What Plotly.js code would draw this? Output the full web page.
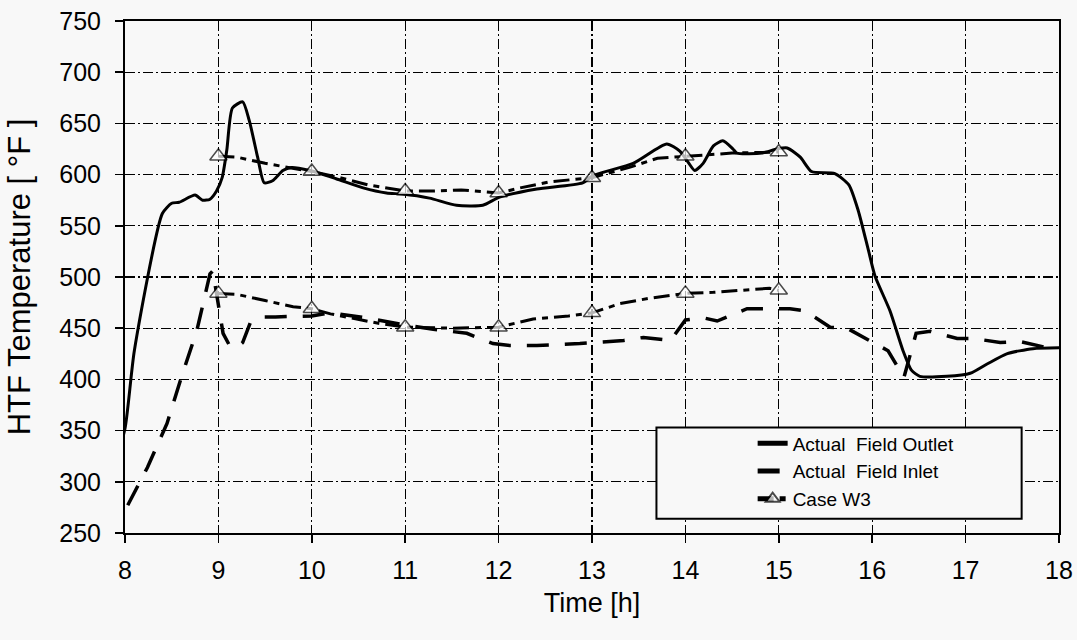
<!DOCTYPE html>
<html>
<head>
<meta charset="utf-8">
<script src="https://cdn.plot.ly/plotly-3.0.1.min.js"></script>
<style>
  html, body { margin: 0; padding: 0; background: #f8f8f8; }
  #chart { width: 1077px; height: 640px; }
</style>
</head>
<body>
<div id="chart"></div>
<script>
// Actual Field Outlet (solid)
const outletTime = [7.877, 8.0, 8.10, 8.40, 8.50, 8.58, 8.75, 8.83, 8.91, 8.98, 9.04, 9.09, 9.15, 9.26, 9.33, 9.42, 9.49, 9.58, 9.69, 9.78, 9.98, 10.26, 10.55, 10.80, 10.97, 11.26, 11.55, 11.83, 12.01, 12.41, 12.90, 13.01, 13.44, 13.80, 13.94, 14.03, 14.10, 14.19, 14.30, 14.40, 14.51, 14.55, 14.82, 14.98, 15.09, 15.23, 15.35, 15.60, 15.75, 15.85, 15.96, 16.03, 16.19, 16.33, 16.42, 16.51, 16.80, 17.05, 17.23, 17.44, 17.72, 18.11];
const outletTemp = [314, 352, 428, 562, 572, 573, 580, 575, 576, 584, 597, 624, 665, 671, 653, 617, 592, 594, 604, 607, 604, 596, 587, 582, 581, 577, 570, 570, 578, 586, 592, 599, 611, 630, 623, 612, 604, 611, 628, 633, 625, 621, 621, 625, 626, 617, 603, 601, 590, 565, 526, 501, 467, 428, 409, 403, 403, 406, 415, 425, 430, 431];

// Actual Field Inlet (dashed)
const inletTime = [7.90, 8.0, 8.24, 8.45, 8.60, 8.77, 8.91, 8.94, 9.05, 9.12, 9.20, 9.26, 9.34, 9.48, 9.61, 10.0, 10.2, 10.6, 10.94, 11.3, 11.66, 11.94, 12.12, 12.41, 12.87, 13.34, 13.55, 13.84, 14.0, 14.2, 14.34, 14.66, 14.83, 15.12, 15.28, 15.55, 15.73, 16.0, 16.17, 16.34, 16.47, 16.62, 16.91, 17.08, 17.37, 17.58, 17.87, 18.11];
const inletTemp = [242, 272, 314, 357, 401, 448, 503, 506, 445, 433, 431, 436, 455, 461, 461, 462, 465, 460, 454, 449, 445, 435, 433, 433, 435, 438, 441, 438, 458, 460, 457, 469, 469, 469, 467, 451, 450, 436, 428, 402, 445, 447, 440, 440, 436, 437, 431, 430];

// Case W3 (dash-dot with triangles at whole hours)
const w3OutTime = [9.0, 9.2, 9.5, 9.75, 10.0, 10.3, 10.6, 11.0, 11.3, 11.6, 12.0, 12.23, 12.55, 13.0, 13.4, 13.7, 14.0, 14.2, 14.5, 15.0];
const w3OutTemp = [618, 617, 611, 607, 603, 597, 590, 584, 584, 585, 582, 587, 593, 597, 607, 616, 618, 619, 621, 622];
const w3InTime = [9.0, 9.2, 9.5, 9.8, 10.0, 10.2, 10.7, 11.0, 11.5, 12.0, 12.37, 12.75, 13.0, 13.3, 13.6, 14.0, 14.3, 14.6, 14.9, 15.0];
const w3InTemp = [484, 483, 477, 471, 469, 464, 455, 451, 450, 451, 459, 462, 465, 474, 479, 484, 485, 487, 489, 487];

const seriesNames = ['Actual  Field Outlet', 'Actual  Field Inlet', 'Case W3'];
const xTicks = [8, 9, 10, 11, 12, 13, 14, 15, 16, 17, 18];
const yTicks = [250, 300, 350, 400, 450, 500, 550, 600, 650, 700, 750];

const FONT = 'Liberation Sans, Arial, Helvetica, sans-serif';
const bg = '#f8f8f8';
const w3Dash = '16px,6px,6px,6px';
const markerSizes = t => t.map(v => (Math.abs(v - Math.round(v)) < 1e-9 ? 15 : 0));

const traces = [
  { x: outletTime, y: outletTemp, name: seriesNames[0], mode: 'lines',
    line: { color: '#000', width: 3, shape: 'spline', smoothing: 0.6 } },
  { x: inletTime, y: inletTemp, name: seriesNames[1], mode: 'lines',
    line: { color: '#000', width: 3.5, dash: '22px,16px' } },
  { x: w3OutTime, y: w3OutTemp, name: seriesNames[2], mode: 'lines+markers',
    line: { color: '#000', width: 3, dash: w3Dash },
    marker: { symbol: 'triangle-up', size: markerSizes(w3OutTime), color: '#ffffff', line: { width: 1.5, color: '#000' } } },
  { x: w3InTime, y: w3InTemp, name: seriesNames[2], mode: 'lines+markers', showlegend: false,
    line: { color: '#000', width: 3, dash: w3Dash },
    marker: { symbol: 'triangle-up', size: markerSizes(w3InTime), color: '#ffffff', line: { width: 1.5, color: '#000' } } }
];

const layout = {
  width: 1077, height: 640,
  margin: { l: 125, r: 18, t: 21, b: 107 },
  paper_bgcolor: bg, plot_bgcolor: bg,
  font: { family: FONT, color: '#000' },
  xaxis: {
    range: [8, 18], tickvals: xTicks, ticktext: xTicks.map(String),
    showline: true, mirror: true, linecolor: '#000', linewidth: 2,
    ticks: 'outside', ticklen: 8, tickwidth: 1.5, tickcolor: '#000',
    ticklabelstandoff: 6,
    showgrid: true, gridcolor: '#000', gridwidth: 1.2, griddash: '10px,3px,2px,3px',
    zeroline: false,
    tickfont: { family: FONT, size: 25, color: '#000' },
    title: { text: 'Time [h]', font: { family: FONT, size: 27, color: '#000' }, standoff: 10 }
  },
  yaxis: {
    range: [250, 750], tickvals: yTicks, ticktext: yTicks.map(String),
    showline: true, mirror: true, linecolor: '#000', linewidth: 2,
    ticks: 'outside', ticklen: 8, tickwidth: 1.5, tickcolor: '#000',
    ticklabelstandoff: 9,
    showgrid: true, gridcolor: '#000', gridwidth: 1.2, griddash: '10px,3px,2px,3px',
    zeroline: false,
    tickfont: { family: FONT, size: 25, color: '#000' },
    title: { text: 'HTF Temperature [ °F ]', font: { family: FONT, size: 31, color: '#000' }, standoff: 19 }
  },
  shapes: [
    { type: 'rect', xref: 'paper', yref: 'paper', layer: 'above',
      x0: 0.569, x1: 0.960, y0: 0.028, y1: 0.206,
      fillcolor: bg, line: { color: '#000', width: 2 } }
  ],
  legend: {
    x: 0.672, y: 0.212, xanchor: 'left', yanchor: 'top',
    bgcolor: 'rgba(0,0,0,0)', borderwidth: 0,
    font: { family: FONT, size: 19, color: '#000' },
    itemsizing: 'constant',
    tracegroupgap: 0
  },
  showlegend: true
};

Plotly.newPlot('chart', traces, layout, { displayModeBar: false, staticPlot: true });
</script>
</body>
</html>
